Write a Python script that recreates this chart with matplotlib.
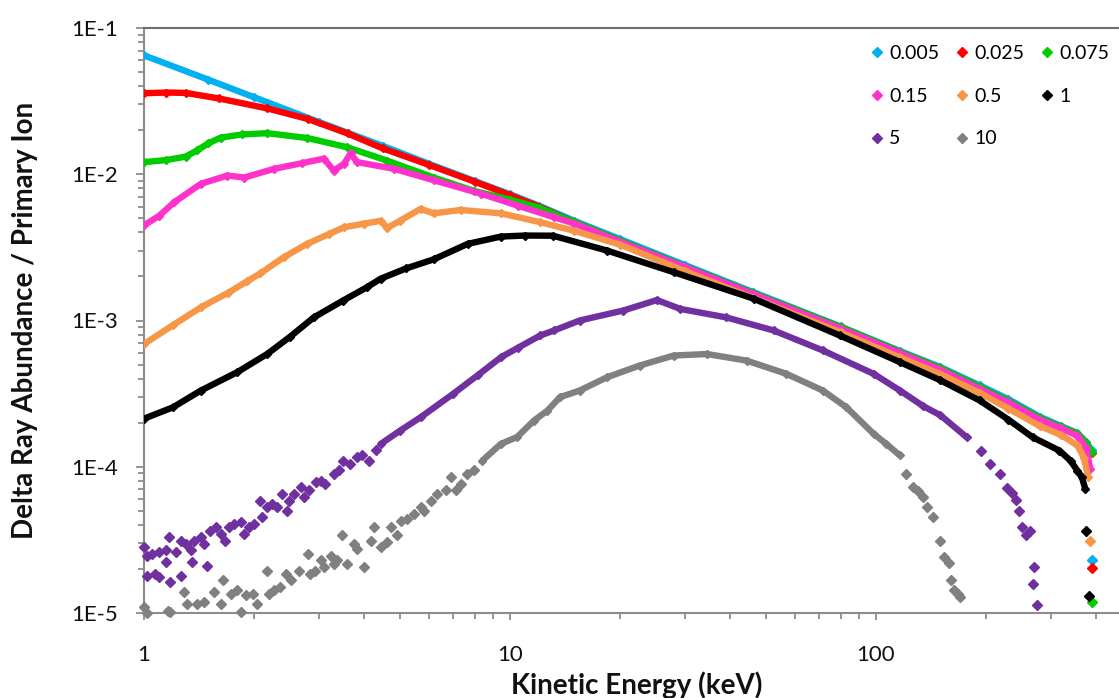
import numpy as np
import matplotlib
matplotlib.use("Agg")
import matplotlib.pyplot as plt
from matplotlib.lines import Line2D
from matplotlib.ticker import LogLocator, FuncFormatter, NullFormatter

plt.rcParams['font.family'] = ['Lato', 'DejaVu Sans']

# delta ray spectra per primary ion, one series per ion energy (legend value)
LABELS = ['0.005', '0.025', '0.075', '0.15', '0.5', '1', '5', '10']
COLORS = ['#00B0F0', '#FF0000', '#00CC00', '#FF33CC', '#F79646', '#000000', '#7030A0', '#808080']

# kinetic energy (keV) / abundance along the continuous part of each curve
BLUE_E = [1, 1.5, 2, 3, 4.5, 6, 8, 10, 12, 15, 20, 30, 46, 80, 116, 150, 192, 230, 280, 320, 355, 375, 388]
BLUE_V = [0.065, 0.0443, 0.0336, 0.0228, 0.0156, 0.0118, 0.0090, 0.0073, 0.0061, 0.0048, 0.0036, 0.0024,
          0.00157, 0.00091, 0.00062, 0.00048, 0.00036, 0.00029, 0.00022, 0.00019, 0.00017, 0.000148, 0.00013]

RED_E = [1, 1.15, 1.3, 1.6, 2.17, 2.8, 3.6, 4.5, 6, 8, 10, 12, 15, 20, 30, 46, 80, 116, 150, 192, 230, 280,
         320, 355, 375, 388]
RED_V = [0.0358, 0.0362, 0.0360, 0.0330, 0.0282, 0.0239, 0.0190, 0.0150, 0.0116, 0.0089, 0.0072, 0.0060,
         0.0047, 0.0035, 0.00234, 0.00154, 0.0009, 0.00061, 0.00047, 0.00035, 0.00028, 0.000215, 0.000187,
         0.000168, 0.000145, 0.000125]

GREEN_E = [1, 1.15, 1.3, 1.4, 1.5, 1.62, 1.85, 2.17, 2.79, 3.59, 4.61, 6.19, 7.96, 10, 12, 15, 20, 30, 46, 80,
           116, 150, 192, 230, 280, 320, 355, 375, 388]
GREEN_V = [0.0121, 0.0125, 0.0132, 0.0146, 0.0163, 0.0178, 0.0187, 0.0191, 0.0177, 0.0153, 0.0124, 0.0095,
           0.0077, 0.0067, 0.0059, 0.0047, 0.0035, 0.00234, 0.00154, 0.0009, 0.00061, 0.00047, 0.00035,
           0.00028, 0.000215, 0.000187, 0.000168, 0.000145, 0.000127]

PINK_E = [1, 1.1, 1.21, 1.43, 1.69, 1.88, 2.27, 2.7, 3.1, 3.3, 3.52, 3.67, 3.82, 4.82, 6.19, 8.35, 10.5, 13.2,
          15, 20, 30, 46, 80, 116, 150, 192, 230, 280, 320, 355, 375, 385]
PINK_V = [0.00447, 0.0052, 0.00644, 0.0086, 0.0098, 0.0095, 0.0109, 0.0119, 0.0128, 0.0106, 0.0118, 0.0139,
          0.0121, 0.0109, 0.0091, 0.00735, 0.0061, 0.00508, 0.0046, 0.00345, 0.00232, 0.00152, 0.00088,
          0.0006, 0.00046, 0.00034, 0.000275, 0.00021, 0.000183, 0.000163, 0.000135, 0.000097]

ORANGE_E = [1, 1.2, 1.43, 1.7, 1.91, 2.08, 2.41, 2.79, 3.2, 3.52, 4.0, 4.43, 4.62, 5.0, 5.7, 6.19, 7.33, 9.45,
            12.1, 15, 20, 30, 46, 80, 116, 150, 192, 230, 280, 320, 355, 370, 380]
ORANGE_V = [0.00069, 0.00093, 0.00123, 0.00155, 0.00185, 0.0021, 0.00271, 0.00334, 0.0039, 0.00434, 0.0046,
            0.0048, 0.0043, 0.0048, 0.0058, 0.0054, 0.0057, 0.0054, 0.0047, 0.0041, 0.0033, 0.00218, 0.00143,
            0.00083, 0.00056, 0.00043, 0.00032, 0.00025, 0.00019, 0.000165, 0.00014, 0.000115, 0.000085]

BLACK_E = [1, 1.2, 1.43, 1.8, 2.17, 2.5, 2.91, 3.5, 4.07, 4.43, 5.2, 6.19, 7.66, 9.45, 11, 13.1, 18.4, 28, 46.3,
           79.6, 116.3, 150, 192, 230, 268, 317, 340, 355, 365, 373]
BLACK_V = [0.000213, 0.000255, 0.000332, 0.000444, 0.00059, 0.00077, 0.00105, 0.00137, 0.00169, 0.00193,
           0.00227, 0.00262, 0.00334, 0.00375, 0.00381, 0.0038, 0.00301, 0.00214, 0.00141, 0.00079, 0.000519,
           0.00039, 0.000284, 0.00021, 0.000159, 0.000129, 0.00011, 0.000094, 0.000085, 0.0000707]

PURPLE_E = [4.43, 5.0, 5.7, 6.99, 8.2, 9.45, 10.5, 12.1, 13.2, 15.5, 20.4, 25.2, 29.2, 39, 52.5, 71.6, 98.5,
            116.3, 134.5, 150, 177]
PURPLE_V = [0.000143, 0.000176, 0.000218, 0.000315, 0.000426, 0.000561, 0.00065, 0.00079, 0.000855, 0.001,
            0.00117, 0.00138, 0.0012, 0.00105, 0.000855, 0.000624, 0.000432, 0.000332, 0.00026, 0.000225,
            0.000159]

GRAY_E = [8.4, 9.43, 10.47, 11.63, 12.65, 13.7, 15.5, 18.4, 22.6, 28, 34.5, 44.3, 56.9, 71.6, 83, 98.5,
          106.8, 116]
GRAY_V = [1.10e-4, 1.43e-4, 1.6e-4, 2.07e-4, 2.42e-4, 2.99e-4, 3.32e-4, 4.09e-4, 4.92e-4, 5.76e-4, 5.9e-4,
          5.32e-4, 4.32e-4, 3.32e-4, 2.55e-4, 1.68e-4, 1.43e-4, 1.2e-4]

# isolated / noisy bins drawn as single markers
BLUE_PTS_E, BLUE_PTS_V = [389], [2.31e-5]
RED_PTS_E, RED_PTS_V = [389], [2.04e-5]
GREEN_PTS_E, GREEN_PTS_V = [390], [1.19e-5]
PINK_PTS_E, PINK_PTS_V = [], []
ORANGE_PTS_E, ORANGE_PTS_V = [385], [3.13e-5]
BLACK_PTS_E, BLACK_PTS_V = [375, 381], [3.66e-5, 1.3e-5]

PURPLE_PTS_E = [1.0, 1.02, 1.05, 1.10, 1.15, 1.17, 1.22, 1.26, 1.30, 1.34, 1.37, 1.43, 1.46, 1.51, 1.57, 1.62,
                1.66, 1.71, 1.76, 1.84, 1.88, 1.94, 2.0, 2.08, 2.10, 2.17, 2.24, 2.31, 2.39, 2.46, 2.49, 2.57,
                2.68, 2.74, 2.83, 2.96, 3.04, 3.12, 3.30, 3.40, 3.50, 3.65, 3.82, 3.95, 4.13, 4.30,
                1.02, 1.07, 1.10, 1.15, 1.18, 1.26, 1.35, 1.49,
                194, 205, 218, 228, 235, 242, 246, 250, 257, 264, 268, 271, 275]
PURPLE_PTS_V = [2.82e-5, 2.47e-5, 2.54e-5, 2.61e-5, 2.68e-5, 3.30e-5, 2.61e-5, 3.13e-5, 2.97e-5, 2.68e-5,
                3.13e-5, 3.30e-5, 2.97e-5, 3.66e-5, 3.86e-5, 3.48e-5, 3.13e-5, 3.86e-5, 4.07e-5, 4.18e-5,
                3.48e-5, 3.86e-5, 4.07e-5, 5.87e-5, 4.52e-5, 5.29e-5, 5.57e-5, 5.29e-5, 6.53e-5, 5.0e-5,
                5.87e-5, 6.53e-5, 7.25e-5, 6.2e-5, 6.89e-5, 7.85e-5, 8.05e-5, 7.64e-5, 8.95e-5, 9.5e-5,
                1.10e-4, 1.05e-4, 1.16e-4, 1.20e-4, 1.10e-4, 1.30e-4,
                1.80e-5, 1.85e-5, 1.76e-5, 2.23e-5, 1.63e-5, 1.80e-5, 2.23e-5, 2.08e-5,
                1.29e-4, 1.05e-4, 8.95e-5, 7.2e-5, 6.6e-5, 5.9e-5, 5.0e-5, 3.86e-5, 3.4e-5, 3.66e-5,
                1.58e-5, 2.05e-5, 1.14e-5]

GRAY_PTS_E = [1.0, 1.02, 1.16, 1.18, 1.29, 1.31, 1.40, 1.46, 1.55, 1.62, 1.64, 1.73, 1.80, 1.84, 1.90, 1.98,
              2.04, 2.17, 2.20, 2.27, 2.36, 2.44, 2.52, 2.65, 2.80, 2.85, 2.94, 3.04, 3.10, 3.24, 3.30, 3.37,
              3.48, 3.59, 3.75, 3.83, 3.99, 4.16, 4.25, 4.43, 4.62, 4.72, 4.92, 5.03, 5.24, 5.47, 5.70, 5.82,
              6.07, 6.33, 6.67, 6.88, 7.10, 7.33, 7.65, 7.97,
              121, 126, 130, 134.5, 137.5, 143.3, 149.7, 153, 158, 160, 163, 167, 170]
GRAY_PTS_V = [1.10e-5, 1.0e-5, 1.04e-5, 1.01e-5, 1.39e-5, 1.16e-5, 1.16e-5, 1.19e-5, 1.39e-5, 1.16e-5,
              1.67e-5, 1.35e-5, 1.43e-5, 1.01e-5, 1.32e-5, 1.35e-5, 1.16e-5, 1.95e-5, 1.35e-5, 1.43e-5,
              1.50e-5, 1.85e-5, 1.67e-5, 1.95e-5, 2.54e-5, 1.85e-5, 1.95e-5, 2.29e-5, 2.06e-5, 2.47e-5,
              2.17e-5, 2.29e-5, 3.39e-5, 2.17e-5, 2.97e-5, 2.75e-5, 2.06e-5, 3.13e-5, 3.86e-5, 2.82e-5,
              3.05e-5, 3.86e-5, 3.39e-5, 4.29e-5, 4.41e-5, 4.77e-5, 5.29e-5, 5.0e-5, 5.87e-5, 6.53e-5,
              6.89e-5, 8.5e-5, 6.89e-5, 7.64e-5, 8.95e-5, 9.55e-5,
              8.95e-5, 7.24e-5, 6.8e-5, 6.2e-5, 5.3e-5, 4.5e-5, 3.13e-5, 2.43e-5, 2.2e-5, 1.67e-5,
              1.43e-5, 1.35e-5, 1.28e-5]

X_TICKS = [1, 10, 100]
Y_TICKS = [1e-5, 1e-4, 1e-3, 1e-2, 1e-1]

series = [
    (BLUE_E, BLUE_V, BLUE_PTS_E, BLUE_PTS_V),
    (RED_E, RED_V, RED_PTS_E, RED_PTS_V),
    (GREEN_E, GREEN_V, GREEN_PTS_E, GREEN_PTS_V),
    (PINK_E, PINK_V, PINK_PTS_E, PINK_PTS_V),
    (ORANGE_E, ORANGE_V, ORANGE_PTS_E, ORANGE_PTS_V),
    (BLACK_E, BLACK_V, BLACK_PTS_E, BLACK_PTS_V),
    (PURPLE_E, PURPLE_V, PURPLE_PTS_E, PURPLE_PTS_V),
    (GRAY_E, GRAY_V, GRAY_PTS_E, GRAY_PTS_V),
]

W, H = 1119, 698
fig = plt.figure(figsize=(W / 100, H / 100), dpi=100)
ax = fig.add_axes([144 / W, 85 / H, (W - 144) / W, 585 / H])

for i, (e, v, pe, pv) in enumerate(series):
    c = COLORS[i]
    ax.plot(e, v, color=c, lw=4.6, marker='D', ms=4.5, solid_joinstyle='round',
            solid_capstyle='round', zorder=3 + i)
    if pe:
        ax.plot(pe, pv, ls='none', marker='D', ms=4.8, color=c, clip_on=False, zorder=3 + i)

ax.set_xscale('log')
ax.set_yscale('log')
ax.set_xlim(1, 10 ** ((W - 144) / 366))
ax.set_ylim(1e-5, 1e-1)

ax.xaxis.set_major_locator(plt.FixedLocator(X_TICKS))
ax.xaxis.set_major_formatter(FuncFormatter(lambda v, p: f"{v:g}"))
ax.xaxis.set_minor_locator(LogLocator(base=10, subs=np.arange(2, 10), numticks=20))
ax.xaxis.set_minor_formatter(NullFormatter())
ax.yaxis.set_major_locator(plt.FixedLocator(Y_TICKS))
ax.yaxis.set_major_formatter(FuncFormatter(lambda v, p: f"1E{int(round(np.log10(v)))}"))
ax.yaxis.set_minor_locator(LogLocator(base=10, subs=np.arange(2, 10), numticks=20))
ax.yaxis.set_minor_formatter(NullFormatter())

axis_gray = '#8C8C8C'
ax.tick_params(axis='both', which='both', direction='out', color=axis_gray, width=1.3,
               labelsize=16, labelcolor='#111111')
ax.tick_params(axis='y', which='major', length=5.5, pad=13)
ax.tick_params(axis='y', which='minor', length=4)
ax.tick_params(axis='x', which='major', length=5, pad=18)
ax.tick_params(axis='x', which='minor', length=4.5)
ax.spines['right'].set_visible(False)
for side in ('left', 'bottom', 'top'):
    ax.spines[side].set_color(axis_gray)
    ax.spines[side].set_linewidth(1.5)
ax.spines['top'].set_color('#6E6E6E')

fig.text(637 / W, 4 / H, 'Kinetic Energy (keV)', ha='center', va='baseline',
         fontsize=20, fontweight='bold', color='#111111')
fig.text(25 / W, 1 - 320 / H, 'Delta Ray Abundance / Primary Ion', ha='center', va='center',
         rotation=90, fontsize=20, fontweight='bold', color='#111111')

# legend laid out row by row, three per row
handles = [Line2D([], [], ls='none', marker='D', ms=5, color=c) for c in COLORS]
order = [0, 3, 6, 1, 4, 7, 2, 5]
ax.legend([handles[k] for k in order], [LABELS[k] for k in order], ncol=3, loc='upper left',
          bbox_to_anchor=(871 / W, 1 - 45 / H), bbox_transform=fig.transFigure, frameon=False,
          fontsize=14, handlelength=0.6, handletextpad=0.32, columnspacing=0.88,
          labelspacing=1.32, borderpad=0, borderaxespad=0)

fig.savefig('out.png', dpi=100)
